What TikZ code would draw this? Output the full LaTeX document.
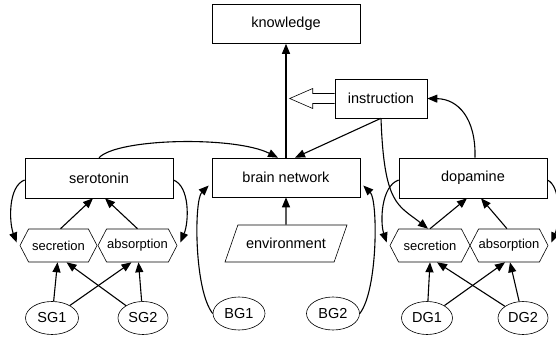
\documentclass[tikz,border=0pt]{standalone}
\usepackage{fontspec}
\setmainfont{Liberation Sans}
\usetikzlibrary{shapes.geometric,shapes.symbols,arrows.meta,calc}
\begin{document}
\begin{tikzpicture}[x=1pt,y=-1pt,
  box/.style={draw, line width=0.6pt, minimum height=39pt, inner sep=0pt, font=\fontsize{14.5}{16}\selectfont},
  hexa/.style={draw, signal, signal to=west and east, signal pointer angle=125, minimum height=33pt, inner sep=0pt, line width=0.6pt, font=\fontsize{13}{15}\selectfont},
  ell/.style={draw, ellipse, minimum height=33pt, minimum width=52pt, inner sep=0pt, line width=0.6pt, font=\fontsize{14.5}{16}\selectfont},
  conn/.style={line width=1.1pt, -{Triangle[length=10pt,width=8pt]}},
  hollow/.style={draw, line width=0.6pt, fill=white},
]
\useasboundingbox (0,0) rectangle (556,339);
% boxes
\node[box, minimum width=148pt] (know) at (286,24) {knowledge};
\node[box, minimum width=92pt] (instr) at (381,98.5) {instruction};
\node[box, minimum width=148pt] (brain) at (286,177.5) {brain network};
\node[box, minimum width=148pt, minimum height=40pt] (sero) at (99,178) {serotonin};
\node[box, minimum width=148pt, minimum height=40pt] (dopa) at (473,178) {dopamine};
% hexagons
\node[hexa, minimum width=77pt] (ssec) at (58.5,245.5) {secretion};
\node[hexa, minimum width=79pt] (sabs) at (137.5,245.5) {absorption};
\node[hexa, minimum width=80pt] (dsec) at (430,245.5) {secretion};
\node[hexa, minimum width=78pt] (dabs) at (509,245.5) {absorption};
% environment
\node[draw, trapezium, trapezium left angle=45, trapezium right angle=135, trapezium stretches=true,
      minimum width=122pt, minimum height=37pt, inner sep=0pt, line width=0.6pt,
      font=\fontsize{14.5}{16}\selectfont] (env) at (286,243.5) {environment};
% ellipses
\node[ell, minimum width=53pt] (sg1) at (52,318) {SG1};
\node[ell, minimum width=50pt] (sg2) at (143,318) {SG2};
\node[ell] (bg1) at (239,313.5) {BG1};
\node[ell, minimum width=53pt] (bg2) at (333,313.5) {BG2};
\node[ell, minimum width=51pt] (dg1) at (427,318) {DG1};
\node[ell, minimum width=50pt] (dg2) at (523,318) {DG2};

% brain -> knowledge
\draw[conn] (brain.north) -- (know.south);
% hollow arrow from instruction
\draw[hollow] (instr.west) ++(0,-5) -- ++(-22,0) -- ++(0,-5) -- ++(-23,10) -- ++(23,10) -- ++(0,-5) -- ++(22,0);
% serotonin -> brain
\draw[conn] (sero.north) .. controls (118,138) and (235,136) .. ($(brain.north)+(-8,0)$);
% instruction -> brain
\draw[conn] (instr.south) -- ($(brain.north)+(9,0)$);
% instruction -> dopamine secretion
\draw[conn] (instr.south) .. controls (384,205) and (398,205) .. ($(dsec.north)+(-2,0)$);
% dopamine -> instruction
\draw[conn] ($(dopa.north)+(2,0)$) .. controls (476,118) and (458,99) .. (instr.east);
% environment -> brain
\draw[conn] (env.north) -- (brain.south);
% BG -> brain
\draw[conn] (bg1.west) .. controls (194,290) and (194,200) .. ($(brain.west)+(-3,8)$);
\draw[conn] (bg2.east) .. controls (378,290) and (378,200) .. ($(brain.east)+(3,8)$);
% serotonin side loops
\draw[conn] ($(sero.west)+(0,2)$) .. controls (8,186) and (9,222) .. ($(ssec.west)+(-3,-3)$);
\draw[conn] ($(sero.east)+(0,2)$) .. controls (190,186) and (189,222) .. ($(sabs.east)+(3,-3)$);
\draw[conn] ($(dopa.west)+(0,2)$) .. controls (381,186) and (380,222) .. ($(dsec.west)+(-3,-3)$);
\draw[conn] ($(dopa.east)+(0,2)$) .. controls (561,186) and (560,222) .. ($(dabs.east)+(3,-3)$);
% hexagons -> boxes
\draw[conn] ($(ssec.north)+(2,0)$) -- ($(sero.south)+(-6,0)$);
\draw[conn] ($(sabs.north)+(0,0)$) -- ($(sero.south)+(6,0)$);
\draw[conn] ($(dsec.north)+(0,0)$) -- ($(dopa.south)+(-6,0)$);
\draw[conn] ($(dabs.north)+(-2,0)$) -- ($(dopa.south)+(8,0)$);
% ellipses -> hexagons
\draw[conn] (sg1) -- ($(ssec.south)+(-1,0)$);
\draw[conn] (sg1) -- ($(sabs.south)+(-6,0)$);
\draw[conn] (sg2) -- ($(ssec.south)+(8,0)$);
\draw[conn] (sg2) -- ($(sabs.south)+(1,0)$);
\draw[conn] (dg1) -- ($(dsec.south)+(0,0)$);
\draw[conn] (dg1) -- ($(dabs.south)+(-4,0)$);
\draw[conn] (dg2) -- ($(dsec.south)+(7,0)$);
\draw[conn] (dg2) -- ($(dabs.south)+(1,0)$);
\end{tikzpicture}
\end{document}
